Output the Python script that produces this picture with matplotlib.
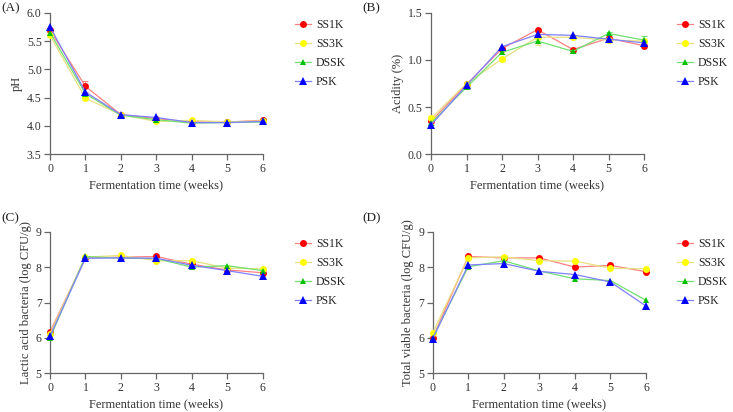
import matplotlib
matplotlib.use("Agg")
import matplotlib.pyplot as plt
from matplotlib.lines import Line2D

plt.rcParams['font.family'] = ['Liberation Serif', 'DejaVu Serif']

weeks = [0, 1, 2, 3, 4, 5, 6]
series = ['SS1K', 'SS3K', 'DSSK', 'PSK']

ph_ss1k = [5.69, 4.70, 4.20, 4.13, 4.07, 4.07, 4.10]
ph_ss3k = [5.60, 4.49, 4.20, 4.08, 4.10, 4.07, 4.09]
ph_dssk = [5.65, 4.57, 4.19, 4.11, 4.05, 4.06, 4.07]
ph_psk = [5.75, 4.60, 4.20, 4.15, 4.06, 4.06, 4.08]
ph_err_ss1k = [0.03, 0.10, 0.02, 0.02, 0.02, 0.02, 0.02]

ac_ss1k = [0.35, 0.74, 1.12, 1.32, 1.11, 1.23, 1.15]
ac_ss3k = [0.38, 0.75, 1.01, 1.24, 1.24, 1.21, 1.20]
ac_dssk = [0.33, 0.71, 1.08, 1.20, 1.09, 1.28, 1.21]
ac_psk = [0.31, 0.73, 1.14, 1.27, 1.26, 1.22, 1.18]
ac_err_ss3k = [0.02, 0.02, 0.02, 0.08, 0.02, 0.02, 0.02]
ac_err_dssk = [0.02, 0.02, 0.02, 0.02, 0.02, 0.02, 0.04]

lab_ss1k = [6.17, 8.26, 8.28, 8.30, 8.08, 7.92, 7.84]
lab_ss3k = [6.12, 8.28, 8.33, 8.18, 8.18, 7.97, 7.95]
lab_dssk = [6.00, 8.30, 8.25, 8.24, 8.00, 8.04, 7.90]
lab_psk = [6.05, 8.25, 8.26, 8.25, 8.05, 7.90, 7.74]

tvb_ss1k = [6.00, 8.30, 8.26, 8.26, 8.00, 8.05, 7.87]
tvb_ss3k = [6.14, 8.26, 8.29, 8.18, 8.17, 7.97, 7.95]
tvb_dssk = [6.00, 8.01, 8.18, 7.89, 7.67, 7.62, 7.06]
tvb_psk = [5.98, 8.06, 8.10, 7.88, 7.79, 7.58, 6.90]

colors = {'SS1K': '#ff0000', 'SS3K': '#ffff00', 'DSSK': '#00c000', 'PSK': '#0000ff'}
linecolors = {'SS1K': '#ff8080', 'SS3K': '#e8e080', 'DSSK': '#70e070', 'PSK': '#8080ff'}
markers = {'SS1K': 'o', 'SS3K': 'o', 'DSSK': '^', 'PSK': '^'}
msizes = {'SS1K': 5, 'SS3K': 5, 'DSSK': 4.2, 'PSK': 6}

W, H = 733, 412
fig = plt.figure(figsize=(W / 100, H / 100), dpi=100)

def px(l, r, t, b):
    return [l / W, 1 - b / H, (r - l) / W, (b - t) / H]

panels = [
    dict(rect=px(50, 262.7, 12.7, 154.3), data=[ph_ss1k, ph_ss3k, ph_dssk, ph_psk],
         errs={'SS1K': ph_err_ss1k}, ylim=(3.5, 6.0), yticks=[3.5, 4.0, 4.5, 5.0, 5.5, 6.0],
         fmt='{:.1f}', ylabel='pH', label='(A)', lab_xy=(1, 8), leg_x=295, leg_y=22.7),
    dict(rect=px(431, 644, 12.7, 154.3), data=[ac_ss1k, ac_ss3k, ac_dssk, ac_psk],
         errs={'SS3K': ac_err_ss3k, 'DSSK': ac_err_dssk}, ylim=(0.0, 1.5), yticks=[0.0, 0.5, 1.0, 1.5],
         fmt='{:.1f}', ylabel='Acidity (%)', label='(B)', lab_xy=(362, 8), leg_x=677, leg_y=22.7),
    dict(rect=px(50, 262.7, 231.7, 373.3), data=[lab_ss1k, lab_ss3k, lab_dssk, lab_psk],
         errs={}, ylim=(5, 9), yticks=[5, 6, 7, 8, 9],
         fmt='{:.0f}', ylabel='Lactic acid bacteria (log CFU/g)', label='(C)', lab_xy=(1, 218), leg_x=295, leg_y=241.7),
    dict(rect=px(432.7, 646, 231.7, 373.3), data=[tvb_ss1k, tvb_ss3k, tvb_dssk, tvb_psk],
         errs={}, ylim=(5, 9), yticks=[5, 6, 7, 8, 9],
         fmt='{:.0f}', ylabel='Total viable bacteria (log CFU/g)', label='(D)', lab_xy=(362, 218), leg_x=677, leg_y=241.7),
]

axis_col = '#666666'
for p in panels:
    ax = fig.add_axes(p['rect'])
    for name, vals in zip(series, p['data']):
        err = p['errs'].get(name)
        if err is not None:
            ax.errorbar(weeks, vals, yerr=err, fmt='none', ecolor=linecolors[name],
                        elinewidth=0.8, capsize=2.5, capthick=0.8, clip_on=False, zorder=2)
        ax.plot(weeks, vals, color=linecolors[name], lw=0.9, marker=markers[name],
                ms=msizes[name], mfc=colors[name], mec=colors[name], mew=0,
                clip_on=False, zorder=3)
    ax.set_xlim(0, 6)
    ax.set_ylim(*p['ylim'])
    ax.set_xticks(weeks)
    ax.set_yticks(p['yticks'])
    ax.set_yticklabels([p['fmt'].format(v) for v in p['yticks']])
    for s in ['top', 'right']:
        ax.spines[s].set_visible(False)
    for s in ['left', 'bottom']:
        ax.spines[s].set_color(axis_col)
        ax.spines[s].set_linewidth(0.9)
    ax.tick_params(direction='out', length=4, width=0.9, color=axis_col,
                   labelsize=8.5, labelcolor='#333333', pad=2)
    ax.set_xlabel('Fermentation time (weeks)', fontsize=9, color='#333333', labelpad=3)
    ax.set_ylabel(p['ylabel'], fontsize=9, color='#333333', labelpad=3)
    fig.text(p['lab_xy'][0] / W, 1 - p['lab_xy'][1] / H, p['label'], fontsize=9.5,
             color='#222222', va='center', ha='left')
    handles = [Line2D([], [], color=linecolors[n], lw=0.9, marker=markers[n], ms=msizes[n],
                      mfc=colors[n], mec=colors[n], mew=0) for n in series]
    leg = fig.legend(handles, series, loc='upper left',
                     bbox_to_anchor=(p['leg_x'] / W, 1 - (p['leg_y'] - 4) / H),
                     frameon=False, fontsize=8.5, handlelength=1.36, handletextpad=0.42,
                     labelspacing=0.6, borderaxespad=0, borderpad=0)
    for t in leg.get_texts():
        t.set_color('#222222')

fig.savefig('out.png', dpi=100)
